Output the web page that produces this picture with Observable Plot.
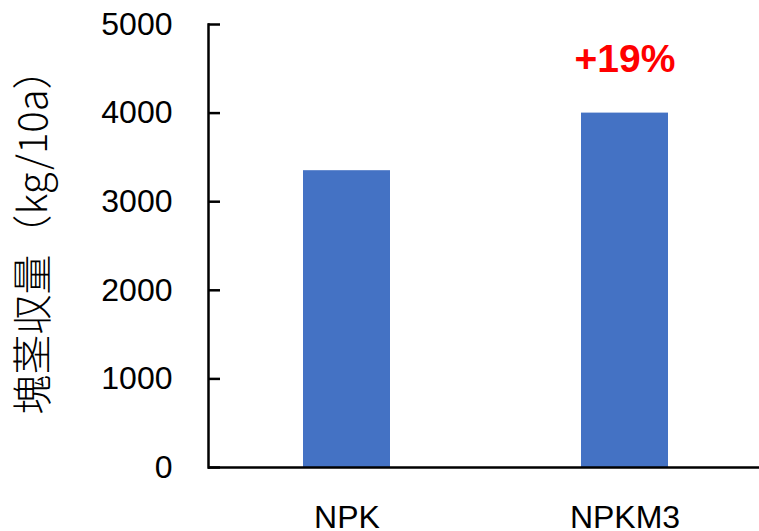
<!DOCTYPE html>
<html><head><meta charset="utf-8">
<script src="https://cdn.jsdelivr.net/npm/d3@7"></script>
<script src="https://cdn.jsdelivr.net/npm/@observablehq/plot@0.6"></script>
<style>body{margin:0;background:#fff}</style>
</head><body><div id="chart"></div>
<script>
const categories = ["NPK", "NPKM3"];
const yields = [3350, 4000];
const yTicks = [0, 1000, 2000, 3000, 4000, 5000];
const annotationText = ["", "+19%"];
const yLabel = "塊茎収量（kg/10a）";

const data = categories.map((c, i) => ({category: c, value: yields[i], note: annotationText[i]}));

const chart = Plot.plot({
  width: 759, height: 531,
  marginLeft: 208, marginRight: 0, marginTop: 24, marginBottom: 64,
  style: {fontFamily: "'Liberation Sans', Arial, sans-serif", background: "#fff", color: "#000"},
  x: {domain: categories, range: [208, 764], paddingInner: 0.687, paddingOuter: 0.3435},
  y: {domain: [0, 5000]},
  marks: [
    Plot.barY(data, {x: "category", y: "value", fill: "#4472C4"}),
    Plot.ruleY([0], {strokeWidth: 2.5, stroke: "#000"}),
    Plot.frame({anchor: "left", strokeWidth: 2.5, stroke: "#000"}),
    Plot.axisY({ticks: yTicks, tickSize: -12, tickPadding: 48, fontSize: 32, strokeWidth: 2.5, tickFormat: d => String(d), label: null}),
    Plot.axisX({tickSize: 0, tickPadding: 38, fontSize: 32, label: null}),
    Plot.text(data.filter(d => d.note), {x: "category", y: "value", text: "note", dy: -53.5, fill: "#FF0000", fontSize: 39, fontWeight: "bold", lineAnchor: "middle"}),
    Plot.text([yLabel], {text: d => d, frameAnchor: "left", rotate: -90, dx: -174, dy: -14, fontSize: 40, fontFamily: "'Noto Sans CJK JP'", fontWeight: 300, textAnchor: "middle", lineAnchor: "middle", fill: "#000"})
  ]
});
document.getElementById("chart").appendChild(chart);
</script>
</body></html>
